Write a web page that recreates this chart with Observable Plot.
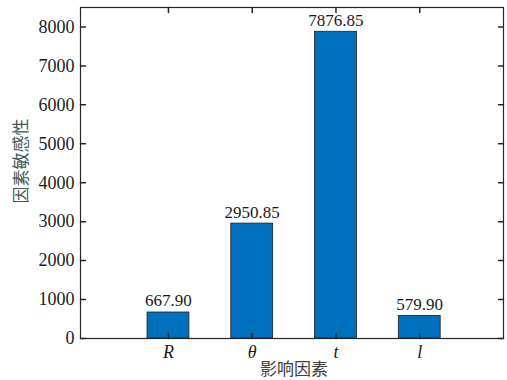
<!DOCTYPE html>
<html>
<head>
<meta charset="utf-8">
<script src="https://cdn.jsdelivr.net/npm/d3@7"></script>
<script src="https://cdn.jsdelivr.net/npm/@observablehq/plot@0.6"></script>
<style>
  html, body { margin: 0; padding: 0; background: #fff; }
</style>
</head>
<body>
<div id="chart"></div>
<script>
// Influence factors and their sensitivity values
const factors = ["R", "θ", "t", "l"];
const sensitivity = [667.90, 2950.85, 7876.85, 579.90];
const yTicks = [0, 1000, 2000, 3000, 4000, 5000, 6000, 7000, 8000];
const xLabel = "影响因素";
const yLabel = "因素敏感性";

const xDomain = [-0.05, 5];
const yDomain = [0, 8500];
const positions = factors.map((_, i) => i + 1);
const rows = factors.map((f, i) => ({factor: f, pos: i + 1, value: sensitivity[i]}));

// straight inward tick drawn by a vector mark
const tickShape = {draw(ctx, l) { ctx.moveTo(0, 0); ctx.lineTo(0, -l); }};
const axisColor = "#262626";
const serif = "'Liberation Serif', 'Times New Roman', serif";
const cjk = "'Noto Sans CJK SC', sans-serif";
const fs = 18;

const chart = Plot.plot({
  width: 507,
  height: 380,
  marginLeft: 80,
  marginRight: 4,
  marginTop: 7,
  marginBottom: 42,
  style: {fontFamily: serif, fontSize: fs + "px", color: "#222", background: "#fff"},
  x: {domain: xDomain, axis: null},
  y: {domain: yDomain, axis: null},
  marks: [
    Plot.rectY(rows, {
      x1: d => d.pos - 0.25, x2: d => d.pos + 0.25, y1: 0, y2: "value",
      fill: "#0072BD", stroke: "#1e1e1e", strokeWidth: 0.8
    }),
    Plot.text(rows, {
      x: "pos", y: "value", text: d => d.value.toFixed(2),
      lineAnchor: "bottom", dy: -6, fill: "#1a1a1a", fontSize: 17, fontFamily: serif
    }),
    // y tick labels
    Plot.text(yTicks, {
      x: xDomain[0], y: d => d, text: d => String(d),
      textAnchor: "end", dx: -6, fill: "#1a1a22", fontSize: fs, fontFamily: serif
    }),
    // x tick labels
    Plot.text(rows, {
      x: "pos", y: 0, text: "factor", lineAnchor: "top", dy: 7,
      fontStyle: "italic", fill: "#1a1a1a", fontSize: fs, fontFamily: serif
    }),
    // inward ticks on all four sides
    Plot.vector(yTicks, {x: xDomain[0], y: d => d, length: 5, rotate: 90, anchor: "start", shape: tickShape, stroke: axisColor}),
    Plot.vector(yTicks, {x: xDomain[1], y: d => d, length: 5, rotate: -90, anchor: "start", shape: tickShape, stroke: axisColor}),
    Plot.vector(positions, {x: d => d, y: yDomain[0], length: 5, rotate: 0, anchor: "start", shape: tickShape, stroke: axisColor}),
    Plot.vector(positions, {x: d => d, y: yDomain[1], length: 5, rotate: 180, anchor: "start", shape: tickShape, stroke: axisColor}),
    Plot.frame({stroke: axisColor, strokeWidth: 1.2}),
    // axis titles
    Plot.text([xLabel], {
      frameAnchor: "bottom", textAnchor: "middle", lineAnchor: "middle",
      text: d => d, dy: 31, dx: 2,
      fontFamily: cjk, fontSize: 17, fill: "#404040"
    }),
    Plot.text([yLabel], {
      frameAnchor: "left", textAnchor: "middle", lineAnchor: "middle",
      text: d => d, rotate: -90, dx: -59, dy: -12,
      fontFamily: cjk, fontSize: 17, fill: "#3f5858"
    })
  ]
});

document.getElementById("chart").appendChild(chart);
</script>
</body>
</html>
